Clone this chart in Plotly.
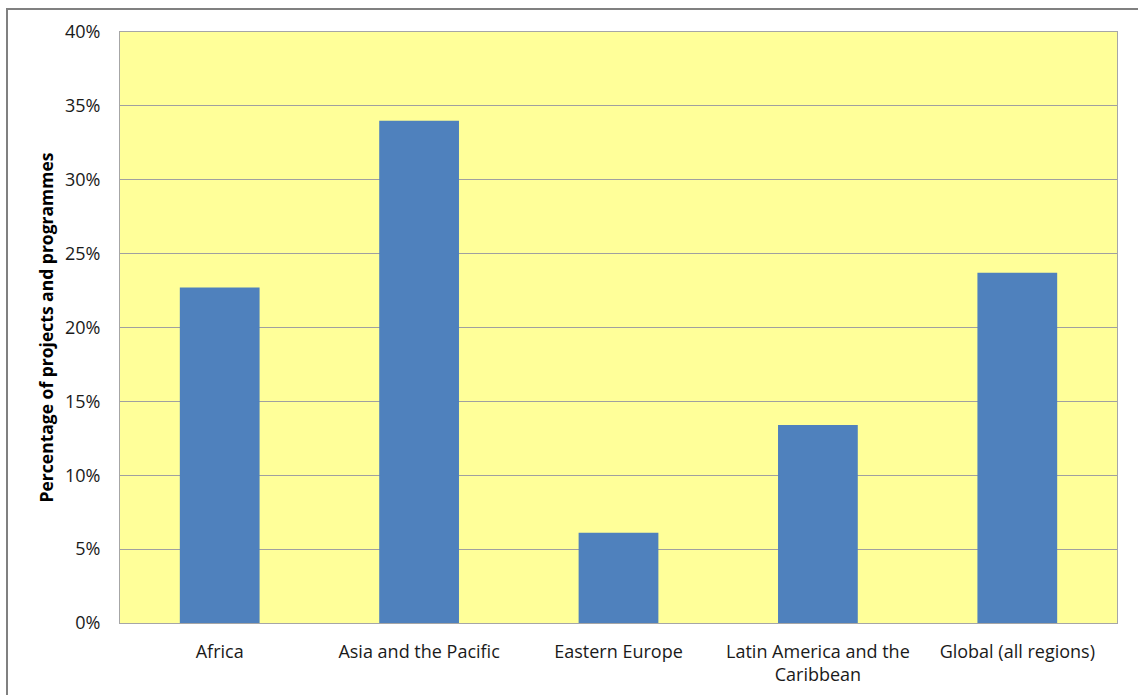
import plotly.graph_objects as go

categories = ["Africa", "Asia and the Pacific", "Eastern Europe",
              "Latin America and the<br>Caribbean", "Global (all regions)"]
values = [22.7, 34.0, 6.1, 13.4, 23.7]
tick_vals = [0, 5, 10, 15, 20, 25, 30, 35, 40]
tick_text = ["0%", "5%", "10%", "15%", "20%", "25%", "30%", "35%", "40%"]

W, H = 1138, 695
L, R, T, B = 120, 21, 32, 72
pw, ph = W - L - R, H - T - B

fig = go.Figure(go.Bar(x=categories, y=values, marker=dict(color="#4F81BD", line=dict(width=0)),
                       width=0.4))

fig.update_layout(
    width=W, height=H,
    margin=dict(l=L, r=R, t=T, b=B, pad=0),
    paper_bgcolor="white", plot_bgcolor="#FFFF99",
    font=dict(family="Open Sans, sans-serif", size=18, color="#1a1a1a"),
    showlegend=False,
    xaxis=dict(showgrid=False, showline=True, linecolor="#A6A6A6", linewidth=1,
               ticks="outside", ticklen=12, tickcolor="rgba(0,0,0,0)",
               tickfont=dict(size=18), mirror=True, automargin=False),
    yaxis=dict(range=[0, 40], tickvals=tick_vals, ticktext=tick_text,
               showgrid=True, gridcolor="#A0A0A0", gridwidth=1,
               showline=True, linecolor="#A6A6A6", linewidth=1, mirror=True,
               ticks="outside", ticklen=15, tickcolor="rgba(0,0,0,0)",
               tickfont=dict(size=18), zeroline=False, automargin=False,
               title=dict(text="<b>Percentage of projects and programmes</b>",
                          font=dict(size=17.5, color="#000"), standoff=6)),
)
# outer chart border
fig.add_shape(type="rect", xref="paper", yref="paper",
              x0=(7 - L) / pw, x1=(W + 20 - L) / pw,
              y0=-(B + 20) / ph, y1=1 + (T - 9) / ph,
              line=dict(color="#808080", width=2), layer="above")
fig.write_html("out.html")
